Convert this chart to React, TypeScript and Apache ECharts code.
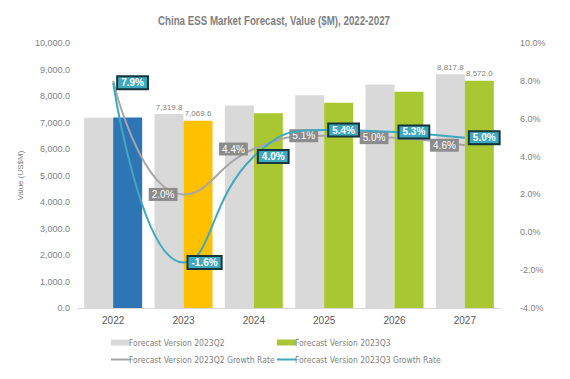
import React, { useEffect, useRef } from "react";
import * as echarts from "echarts";

const years = ["2022", "2023", "2024", "2025", "2026", "2027"];
const q2Values = [7176, 7319.8, 7642, 8032, 8434, 8817.8];
const q3Values = [7184, 7069.6, 7352, 7749, 8160, 8572.0];
const q2Growth = [8.0, 2.0, 4.4, 5.1, 5.0, 4.6];
const q3Growth = [7.9, -1.6, 4.0, 5.4, 5.3, 5.0];
const q3BarColors = ["#2e75b6", "#ffc000", "#a9c733", "#a9c733", "#a9c733", "#a9c733"];
const labeledBars = ["2023", "2027"];
const q2LabelShown = [false, true, true, true, true, true];
const titleText = "China ESS Market Forecast, Value ($M), 2022-2027";

const COND = "'DejaVu Sans Condensed', sans-serif";
const REG = "'Liberation Sans', Arial, sans-serif";

export default function App() {
  const ref = useRef<HTMLDivElement>(null);
  useEffect(() => {
    const chart = echarts.init(ref.current!, null, { renderer: "svg" });
    const barLabel = {
      show: true,
      position: "top",
      distance: 3,
      color: "#7f7f7f",
      fontSize: 8,
      fontFamily: REG,
      formatter: (p: any) =>
        Number(p.value).toLocaleString("en-US", { minimumFractionDigits: 1, maximumFractionDigits: 1 }),
    };
    const legendText = { fontSize: 8.5, color: "#7f7f7f", fontFamily: COND, padding: [0, 0, 0, -6] };
    chart.setOption({
      animation: false,
      graphic: [
        {
          type: "text",
          x: 274,
          y: 21,
          scaleX: 0.78,
          style: {
            text: titleText,
            align: "center",
            verticalAlign: "middle",
            fill: "#7f7f7f",
            font: "bold 12.5px 'Liberation Sans', Arial, sans-serif",
          },
        },
      ],
      grid: { left: 78, right: 70, top: 43, bottom: 71 },
      legend: [
        {
          data: ["Forecast Version 2023Q2"],
          left: 106, top: 333, icon: "rect", itemWidth: 19, itemHeight: 6,
          textStyle: legendText,
        },
        {
          data: ["Forecast Version 2023Q3"],
          left: 272, top: 333, icon: "rect", itemWidth: 19, itemHeight: 6,
          textStyle: legendText,
        },
        {
          data: ["Forecast Version 2023Q2 Growth Rate"],
          left: 106, top: 350, icon: "rect", itemWidth: 19, itemHeight: 2,
          textStyle: legendText,
        },
        {
          data: ["Forecast Version 2023Q3 Growth Rate"],
          left: 272, top: 350, icon: "rect", itemWidth: 19, itemHeight: 2,
          textStyle: legendText,
        },
      ],
      xAxis: [
        {
          type: "category",
          data: years,
          axisTick: { show: false },
          axisLine: { lineStyle: { color: "#d9d9d9" } },
          axisLabel: { color: "#595959", fontSize: 10, margin: 7, fontFamily: REG },
        },
      ],
      yAxis: [
        {
          type: "value",
          min: 0, max: 10000, interval: 1000,
          name: "Value (US$M)",
          nameLocation: "middle",
          nameGap: 50,
          nameTextStyle: { fontSize: 8, color: "#7f7f7f", fontFamily: REG },
          splitLine: { show: false },
          axisLine: { show: false },
          axisTick: { show: false },
          axisLabel: {
            color: "#7f7f7f", fontSize: 9, margin: 8, fontFamily: REG,
            formatter: (v: number) => v.toLocaleString("en-US", { minimumFractionDigits: 1, maximumFractionDigits: 1 }),
          },
        },
        {
          type: "value",
          min: -4, max: 10, interval: 2,
          splitLine: { show: false },
          axisLine: { show: false },
          axisTick: { show: false },
          axisLabel: {
            color: "#7f7f7f", fontSize: 9, margin: 20, fontFamily: REG,
            formatter: (v: number) => v.toFixed(1) + "%",
          },
        },
      ],
      series: [
        {
          name: "Forecast Version 2023Q2",
          type: "bar",
          barWidth: 29,
          barGap: "0%",
          itemStyle: { color: "#d9d9d9" },
          data: q2Values.map((v, i) => ({
            value: v,
            label: labeledBars.includes(years[i]) ? barLabel : { show: false },
          })),
        },
        {
          name: "Forecast Version 2023Q3",
          type: "bar",
          barWidth: 29,
          barGap: "0%",
          itemStyle: { color: "#a9c733" },
          data: q3Values.map((v, i) => ({
            value: v,
            itemStyle: { color: q3BarColors[i] },
            label: labeledBars.includes(years[i]) ? barLabel : { show: false },
          })),
        },
        {
          name: "Forecast Version 2023Q2 Growth Rate",
          type: "line",
          yAxisIndex: 1,
          smooth: 0.5,
          symbol: "circle",
          symbolSize: 0,
          lineStyle: { color: "#a6a6a6", width: 2 },
          itemStyle: { color: "#a6a6a6" },
          z: 3,
          data: q2Growth.map((v, i) => ({
            value: v,
            label: {
              show: q2LabelShown[i],
              position: "left",
              distance: 6,
              formatter: (p: any) => Number(p.value).toFixed(1) + "%",
              color: "#ffffff",
              fontSize: 10,
              fontFamily: REG,
              backgroundColor: "#8c8c8c",
              padding: [2, 3, 1, 3],
            },
          })),
        },
        {
          name: "Forecast Version 2023Q3 Growth Rate",
          type: "line",
          yAxisIndex: 1,
          smooth: 0.5,
          symbol: "circle",
          symbolSize: 0,
          lineStyle: { color: "#3ea9be", width: 2 },
          itemStyle: { color: "#3ea9be" },
          z: 4,
          data: q3Growth.map((v) => ({
            value: v,
            label: {
              show: true,
              position: "right",
              distance: 5,
              formatter: (p: any) => Number(p.value).toFixed(1) + "%",
              color: "#ffffff",
              fontSize: 10,
              fontWeight: "bold",
              fontFamily: REG,
              backgroundColor: "#3ea9be",
              borderColor: "#17343b",
              borderWidth: 2,
              padding: [1, 3, 0, 3],
            },
          })),
        },
      ],
    });
    return () => chart.dispose();
  }, []);
  return <div ref={ref} style={{ width: 570, height: 379, margin: -8 }} />;
}
